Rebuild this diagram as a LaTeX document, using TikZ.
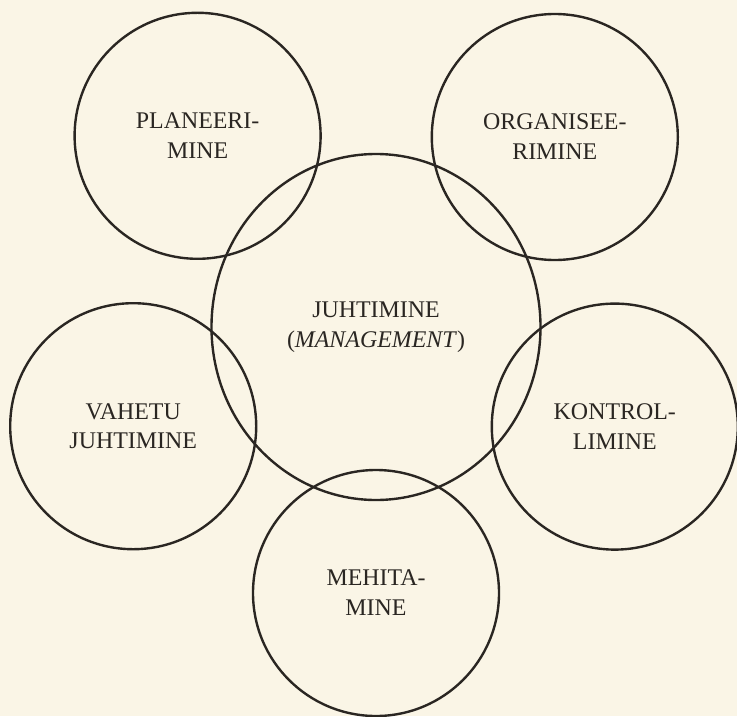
\documentclass[tikz,border=0pt]{standalone}
\usepackage{fontspec}
\setmainfont{Liberation Serif}
\usepackage{tikz}
\usetikzlibrary{positioning, shapes.geometric}

\definecolor{paper}{HTML}{FAF5E6}
\definecolor{ink}{HTML}{2A2622}

\tikzset{
    ring/.style={draw=ink, circle, line width=1.7pt, minimum size=6.15cm, inner sep=0pt, text centered, align=center, text=ink, font=\fontsize{17}{21.3}\selectfont},
    core/.style={draw=ink, ellipse, line width=1.7pt, minimum width=8.225cm, minimum height=8.65cm, inner sep=0pt, text centered, align=center, text=ink, font=\fontsize{17}{21.3}\selectfont}
}

\begin{document}
\begin{tikzpicture}[node distance=4.75cm]

    % Paper background, fixes the margins
    \fill[paper] (0,0) rectangle (18.425,-17.9);
    \useasboundingbox (0,0) rectangle (18.425,-17.9);

    % Central function
    \node (juhtimine) [core] at (9.4,-8.175) {JUHTIMINE\\(\textit{MANAGEMENT})};

    % Functions around the centre
    \node (planeerimine) [ring, above of=juhtimine, xshift=-4.46cm, yshift=0.03cm] {PLANEERI-\\MINE};
    \node (organiseerimine) [ring, above of=juhtimine, xshift=4.47cm] {ORGANISEE-\\RIMINE};
    \node (vahetu) [ring, below of=juhtimine, xshift=-6.07cm, yshift=2.27cm] {VAHETU\\JUHTIMINE};
    \node (kontrollimine) [ring, below of=juhtimine, xshift=5.97cm, yshift=2.26cm] {KONTROL-\\LIMINE};
    \node (mehitamine) [ring, below of=juhtimine, yshift=-1.9cm] {MEHITA-\\MINE};

\end{tikzpicture}
\end{document}
